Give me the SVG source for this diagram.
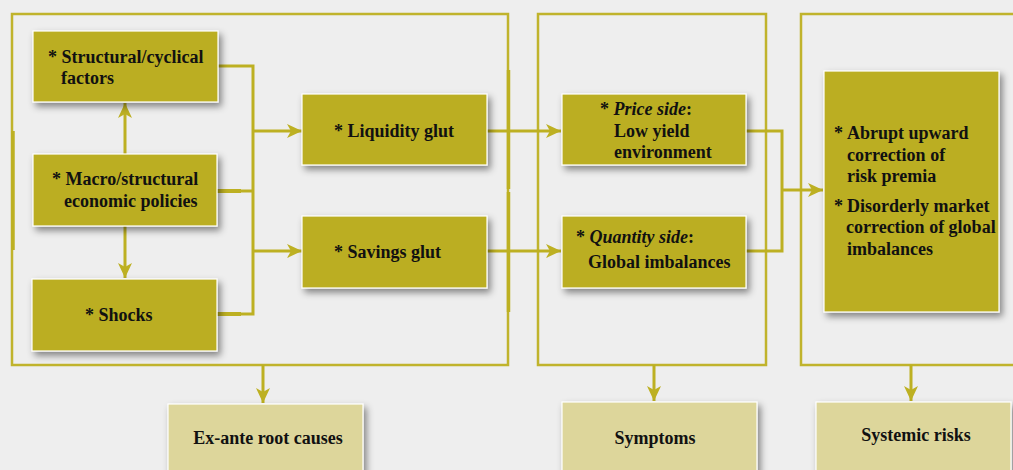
<svg xmlns="http://www.w3.org/2000/svg" width="1013" height="470" viewBox="0 0 1013 470">
<style>
.bg{fill:#eeeeee}
.frame{fill:none;stroke:#c0b32c;stroke-width:2.5}
.node{fill:#bbae22;stroke:#ffffff;stroke-width:1.2;filter:url(#sh)}
.lab{fill:#ddd69b;stroke:#ffffff;stroke-width:1.2;filter:url(#sh)}
.c{fill:none;stroke:#bdb022;stroke-width:3}
.t{font-family:"Liberation Serif","Times New Roman",serif;font-weight:bold;font-size:18px;fill:#111111}
.it{font-style:italic}
</style>
<defs>
<filter id="sh" x="-20%" y="-20%" width="150%" height="160%">
<feDropShadow dx="3" dy="4" stdDeviation="3.5" flood-color="#000000" flood-opacity="0.45"/>
</filter>
<marker id="ah" markerUnits="userSpaceOnUse" markerWidth="16" markerHeight="16" viewBox="0 0 16 16" refX="15" refY="8" orient="auto">
<path d="M0,1 L15,8 L0,15 L4,8 z" fill="#bdb022"/>
</marker>
</defs>
<rect class="bg" x="0" y="0" width="1013" height="470"/>

<g id="containers">
<rect class="frame" x="12" y="14" width="496" height="351"/>
<rect class="frame" x="538" y="14" width="228" height="351"/>
<rect class="frame" x="801" y="14" width="230" height="351"/>
<line x1="13" y1="131" x2="13" y2="250" stroke="#bdb022" stroke-width="3.5"/>
<line x1="508.5" y1="70" x2="508.5" y2="189" stroke="#bdb022" stroke-width="3.5"/>
<line x1="508.5" y1="192" x2="508.5" y2="312" stroke="#bdb022" stroke-width="3.5"/>
</g>

<g id="connectors">
<polyline class="c" points="218,66 253,66 253,314 217,314"/>
<line class="c" x1="217" y1="191" x2="253" y2="191"/>
<line x1="217" y1="191" x2="241" y2="191" stroke="#bdb022" stroke-width="4"/>
<line x1="217" y1="314" x2="241" y2="314" stroke="#bdb022" stroke-width="4"/>
<line class="c" x1="253" y1="131" x2="302" y2="131" marker-end="url(#ah)"/>
<line class="c" x1="253" y1="251" x2="302" y2="251" marker-end="url(#ah)"/>
<line class="c" x1="125" y1="154" x2="125" y2="103" marker-end="url(#ah)"/>
<line class="c" x1="125" y1="226" x2="125" y2="278" marker-end="url(#ah)"/>
<line class="c" x1="487" y1="131" x2="561" y2="131" marker-end="url(#ah)"/>
<line class="c" x1="487" y1="251" x2="561" y2="251" marker-end="url(#ah)"/>
<polyline class="c" points="746,131 782,131 782,251 746,251"/>
<line class="c" x1="782" y1="190" x2="823" y2="190" marker-end="url(#ah)"/>
<line class="c" x1="263" y1="365" x2="263" y2="403" marker-end="url(#ah)"/>
<line class="c" x1="654" y1="365" x2="654" y2="401" marker-end="url(#ah)"/>
<line class="c" x1="911" y1="365" x2="911" y2="401" marker-end="url(#ah)"/>
</g>

<g id="n-structural">
<rect class="node" x="33" y="31" width="185" height="71"/>
<text class="t" x="48" y="63">* Structural/cyclical</text>
<text class="t" x="61" y="84">factors</text>
</g>
<g id="n-macro">
<rect class="node" x="33" y="154" width="184" height="72"/>
<text class="t" x="52" y="185">* Macro/structural</text>
<text class="t" x="64" y="207">economic policies</text>
</g>
<g id="n-shocks">
<rect class="node" x="32" y="279" width="185" height="72"/>
<text class="t" x="85" y="321">* Shocks</text>
</g>
<g id="n-liquidity">
<rect class="node" x="302" y="94" width="185" height="71"/>
<text class="t" x="334" y="137">* Liquidity glut</text>
</g>
<g id="n-savings">
<rect class="node" x="302" y="216" width="185" height="72"/>
<text class="t" x="334" y="258">* Savings glut</text>
</g>
<g id="n-price">
<rect class="node" x="562" y="94" width="184" height="71"/>
<text class="t" x="600" y="115">* <tspan class="it">Price side</tspan>:</text>
<text class="t" x="614" y="137">Low yield</text>
<text class="t" x="614" y="158">environment</text>
</g>
<g id="n-quantity">
<rect class="node" x="562" y="216" width="184" height="72"/>
<text class="t" x="576" y="243">* <tspan class="it">Quantity side</tspan>:</text>
<text class="t" x="588" y="268">Global imbalances</text>
</g>
<g id="n-risks">
<rect class="node" x="824" y="71" width="175" height="241"/>
<text class="t" x="834" y="139">*</text>
<text class="t" x="847" y="139">Abrupt upward</text>
<text class="t" x="847" y="161">correction of</text>
<text class="t" x="847" y="182">risk premia</text>
<text class="t" x="834" y="212">*</text>
<text class="t" x="847" y="212">Disorderly market</text>
<text class="t" x="846" y="233">correction of global</text>
<text class="t" x="847" y="255">imbalances</text>
</g>
<g id="l-root">
<rect class="lab" x="168" y="404" width="195" height="80"/>
<text class="t" x="268" y="444" text-anchor="middle" font-size="17">Ex-ante root causes</text>
</g>
<g id="l-symptoms">
<rect class="lab" x="562" y="402" width="195" height="82"/>
<text class="t" x="655" y="444" text-anchor="middle" font-size="17">Symptoms</text>
</g>
<g id="l-systemic">
<rect class="lab" x="816" y="402" width="195" height="82"/>
<text class="t" x="916" y="441" text-anchor="middle" font-size="17">Systemic risks</text>
</g>
</svg>
